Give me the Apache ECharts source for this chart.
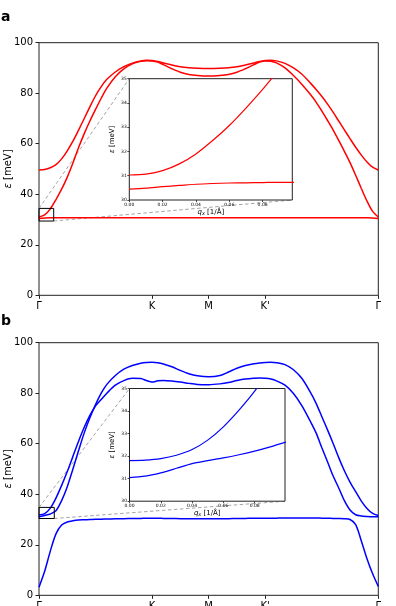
<!DOCTYPE html>
<html><head><meta charset="utf-8">
<script src="https://cdn.jsdelivr.net/npm/echarts@6/dist/echarts.min.js"></script>
<style>html,body{margin:0;padding:0;background:#fff}#c{width:396px;height:606px}</style>
</head><body><div id="c"></div>
<script>
// ---------- data ----------
const pathU = [0,0.1,0.2,0.3,0.4,0.5,0.6,0.7,0.8,0.9,1.0,
  1.1,1.2,1.35,1.5,1.65,1.8,1.9,2.0,2.1,2.2,2.35,2.5,2.65,2.8,
  3.0,
  3.2,3.35,3.5,3.65,3.8,3.9,4.0,4.1,4.2,4.35,4.5,4.65,4.8,4.9,
  5.0,5.1,5.2,5.3,5.4,5.5,5.6,5.7,5.8,5.9,6.0];
const symTicks = [0,2,3,4,6];
const symLabels = ['Γ','K','M',"K'",'Γ'];

// panel a (red)
const aBandUpper = [49.6,49.8,50.5,51.7,54.0,57.2,61.0,65.4,70.0,74.6,79.0,
  82.6,85.5,88.4,90.5,91.9,92.8,93.1,93.0,92.6,92.0,91.2,90.5,90.1,89.9,
  89.8,
  89.9,90.1,90.5,91.2,92.0,92.6,93.0,93.1,92.8,91.8,90.0,87.5,84.0,81.5,
  78.8,75.8,72.5,69.0,65.5,62.0,58.6,55.5,52.8,50.7,49.6];
const aBandLower = [31.0,31.8,34.2,37.9,42.0,46.8,52.4,58.5,64.0,69.0,73.6,
  78.0,82.0,86.5,89.6,91.6,92.6,92.9,92.8,92.3,91.3,89.7,88.3,87.4,87.0,
  86.8,
  87.0,87.4,88.3,89.7,91.3,92.3,92.8,92.7,92.0,90.0,87.0,83.5,79.5,76.5,
  73.0,69.3,65.5,61.3,57.0,52.5,47.5,42.3,37.3,33.2,31.0];
const aFlatU = [0,0.1,0.2,0.4,1,2,3,4,5,5.6,5.8,5.9,6];
const aFlat = [30.45,30.65,30.72,30.73,30.73,30.73,30.73,30.73,30.73,30.73,30.72,30.65,30.45];

// panel b (blue)
const bBandHigh = [31.05,31.6,32.2,33.5,37.5,43.0,50.0,57.3,64.3,70.3,75.5,
  80.0,83.5,87.0,89.5,91.0,91.9,92.2,92.3,92.1,91.6,90.5,89.0,87.7,86.9,
  86.5,
  87.0,88.4,89.9,91.0,91.7,92.0,92.2,92.3,92.1,91.3,89.3,85.8,80.3,76.0,
  70.8,65.6,60.2,54.5,49.3,44.8,41.0,37.3,34.4,32.4,31.6];
const bBandMid = [31.8,32.3,34.5,38.5,43.5,49.0,55.0,61.0,66.5,71.2,75.0,
  77.5,80.0,83.2,85.0,85.9,85.8,85.0,84.4,84.9,85.0,84.8,84.4,83.9,83.5,
  83.4,
  83.7,84.2,85.0,85.6,85.9,86.0,85.9,85.6,84.9,83.2,79.9,75.0,68.8,64.3,
  58.5,53.0,47.3,42.5,37.5,33.8,31.9,31.4,31.2,31.1,31.1];
const bBandLow = [3.2,9.5,17.5,24.3,27.8,29.0,29.5,29.8,29.9,30.0,30.1,
  30.15,30.2,30.3,30.35,30.4,30.45,30.5,30.5,30.5,30.45,30.4,30.35,30.3,30.3,
  30.3,
  30.3,30.35,30.4,30.45,30.5,30.5,30.5,30.5,30.55,30.6,30.6,30.6,30.6,30.6,
  30.55,30.5,30.45,30.4,30.3,30.0,28.0,21.5,14.5,8.5,3.5];

// insets
const qInset = [0,0.01,0.02,0.03,0.04,0.05,0.06,0.07,0.08,0.09,0.10];
const qTicks = [0,0.02,0.04,0.06,0.08];
const aInsetMax = 0.0978;
const bInsetMax = 0.0994;
const insetE = [30,35];
const aInsetLower = [31.03,31.07,31.21,31.49,31.90,32.45,33.07,33.79,34.56,35.4,36.3];
const aInsetFlat = [30.45,30.49,30.55,30.60,30.65,30.68,30.70,30.71,30.72,30.73,30.73];
const bInsetUpper = [31.80,31.82,31.89,32.04,32.29,32.71,33.30,34.04,34.88,35.9,36.9];
const bInsetLower = [31.05,31.11,31.26,31.46,31.67,31.80,31.92,32.06,32.22,32.41,32.62];

// zoom boxes in main-axis units
const aBoxU = [0,0.26], aBoxE = [29.4,34.4];
const bBoxU = [0,0.27], bBoxE = [30.4,34.8];

// ---------- chart ----------
const FONT = 'DejaVu Sans';
const chart = echarts.init(document.getElementById('c'), null, {renderer:'canvas'});
const zip = (xs, ys) => xs.map((x,i)=>[x, ys[i]]);
const boxData = (U,E) => [[U[0],E[0]],[U[1],E[0]],[U[1],E[1]],[U[0],E[1]],[U[0],E[0]]];

function mainGrid(top){ return {left:39, top:top, width:339.3, height:252.6, show:true,
  backgroundColor:'#fff', borderColor:'#222', borderWidth:1, z:0, outerBoundsMode:'none', containLabel:false}; }
function insetGrid(l,t,w,h){ return {left:l, top:t, width:w, height:h, show:true,
  backgroundColor:'#fff', borderColor:'#222', borderWidth:1, z:10, outerBoundsMode:'none', containLabel:false}; }

function mainX(gi){ return {type:'value', gridIndex:gi, min:0, max:6, z:3,
  axisLine:{show:false}, splitLine:{show:false},
  axisTick:{show:true, customValues:symTicks, length:3.5, lineStyle:{color:'#222', width:1}},
  axisLabel:{customValues:symTicks, margin:6, fontSize:10, color:'#000', fontFamily:FONT,
    formatter:v=>symLabels[symTicks.indexOf(v)] ?? ''}}; }
function mainY(gi){ return {type:'value', gridIndex:gi, min:0, max:100, interval:20, z:3,
  axisLine:{show:false}, splitLine:{show:false},
  axisTick:{show:true, length:3.5, lineStyle:{color:'#222', width:1}},
  axisLabel:{margin:6, fontSize:10, color:'#000', fontFamily:FONT},
  name:'{e|ε} [meV]', nameLocation:'middle', nameGap:26, nameMoveOverlap:false,
  nameTextStyle:{fontSize:10, color:'#000', fontFamily:FONT, rich:{e:{fontStyle:'italic', fontSize:10, fontFamily:FONT}}}}; }
function insetX(gi,max){ return {type:'value', gridIndex:gi, min:0, max:max, z:11,
  axisLine:{show:false}, splitLine:{show:false},
  axisTick:{show:true, customValues:qTicks, length:2, lineStyle:{color:'#222', width:0.8}},
  axisLabel:{customValues:qTicks, margin:2.5, fontSize:4.5, color:'#000', fontFamily:FONT, formatter:v=>v.toFixed(2)},
  name:'{q|q}{s|x} [1/Å]', nameLocation:'middle', nameGap:8, nameMoveOverlap:false,
  nameTextStyle:{fontSize:7, color:'#000', fontFamily:FONT, rich:{
    q:{fontStyle:'italic', fontSize:7, fontFamily:FONT},
    s:{fontStyle:'italic', fontSize:5, fontFamily:FONT, padding:[3,0,0,0]}}}}; }
function insetY(gi){ return {type:'value', gridIndex:gi, min:insetE[0], max:insetE[1], interval:1, z:11,
  axisLine:{show:false}, splitLine:{show:false},
  axisTick:{show:true, length:2, lineStyle:{color:'#222', width:0.8}},
  axisLabel:{margin:2.5, fontSize:4.5, color:'#000', fontFamily:FONT},
  name:'{e|ε} [meV]', nameLocation:'middle', nameGap:14, nameMoveOverlap:false,
  nameTextStyle:{fontSize:7, color:'#000', fontFamily:FONT, rich:{e:{fontStyle:'italic', fontSize:7, fontFamily:FONT}}}}; }

function line(xi, data, color, w, z){ return {type:'line', xAxisIndex:xi, yAxisIndex:xi, data:data,
  showSymbol:false, symbol:'none', smooth:0.3, z:z, clip:true, animation:false,
  lineStyle:{color:color, width:w}}; }
function box(xi, data){ return {type:'line', xAxisIndex:xi, yAxisIndex:xi, data:data, showSymbol:false,
  symbol:'none', z:3, animation:false, lineStyle:{color:'#000', width:1}}; }

const RED = '#ff0000', BLUE = '#0000ff';
const option = {
  animation:false,
  backgroundColor:'#fff',
  textStyle:{fontFamily:FONT},
  title:[
    {text:'a', left:1, top:10, padding:0, textStyle:{fontSize:14, fontWeight:'bold', color:'#000', fontFamily:FONT}},
    {text:'b', left:1, top:314, padding:0, textStyle:{fontSize:14, fontWeight:'bold', color:'#000', fontFamily:FONT}}
  ],
  grid:[ mainGrid(42.7), insetGrid(129.3,78.7,163,121.3), mainGrid(342.7), insetGrid(129.5,388.5,155.5,112.7) ],
  xAxis:[ mainX(0), insetX(1,aInsetMax), mainX(2), insetX(3,bInsetMax) ],
  yAxis:[ mainY(0), insetY(1), mainY(2), insetY(3) ],
  series:[
    line(0, zip(pathU,aBandUpper), RED, 1.5, 2),
    line(0, zip(pathU,aBandLower), RED, 1.5, 2),
    line(0, zip(aFlatU,aFlat), RED, 1.5, 2),
    box(0, boxData(aBoxU,aBoxE)),
    line(1, zip(qInset,aInsetLower), RED, 1.2, 12),
    line(1, zip(qInset,aInsetFlat), RED, 1.2, 12),
    line(2, zip(pathU,bBandHigh), BLUE, 1.5, 2),
    line(2, zip(pathU,bBandMid), BLUE, 1.5, 2),
    line(2, zip(pathU,bBandLow), BLUE, 1.5, 2),
    box(2, boxData(bBoxU,bBoxE)),
    line(3, zip(qInset,bInsetUpper), BLUE, 1.2, 12),
    line(3, zip(qInset,bInsetLower), BLUE, 1.2, 12)
  ]
};
chart.setOption(option);

// dashed connectors from zoom box corners to inset corners
function connectors(mainGi, insetGi, U, E, qmax){
  const p1 = chart.convertToPixel({gridIndex:mainGi}, [U[0], E[1]]);
  const p2 = chart.convertToPixel({gridIndex:insetGi}, [0, insetE[1]]);
  const p3 = chart.convertToPixel({gridIndex:mainGi}, [U[1], E[0]]);
  const p4 = chart.convertToPixel({gridIndex:insetGi}, [qmax, insetE[0]]);
  const st = {stroke:'#9a9a9a', lineWidth:0.9, lineDash:[3.5,2.5]};
  return [
    {type:'line', z:1, shape:{x1:p1[0],y1:p1[1],x2:p2[0],y2:p2[1]}, style:st},
    {type:'line', z:1, shape:{x1:p3[0],y1:p3[1],x2:p4[0],y2:p4[1]}, style:st}
  ];
}
chart.setOption({graphic:[].concat(
  connectors(0,1,aBoxU,aBoxE,aInsetMax),
  connectors(2,3,bBoxU,bBoxE,bInsetMax))});
</script></body></html>
